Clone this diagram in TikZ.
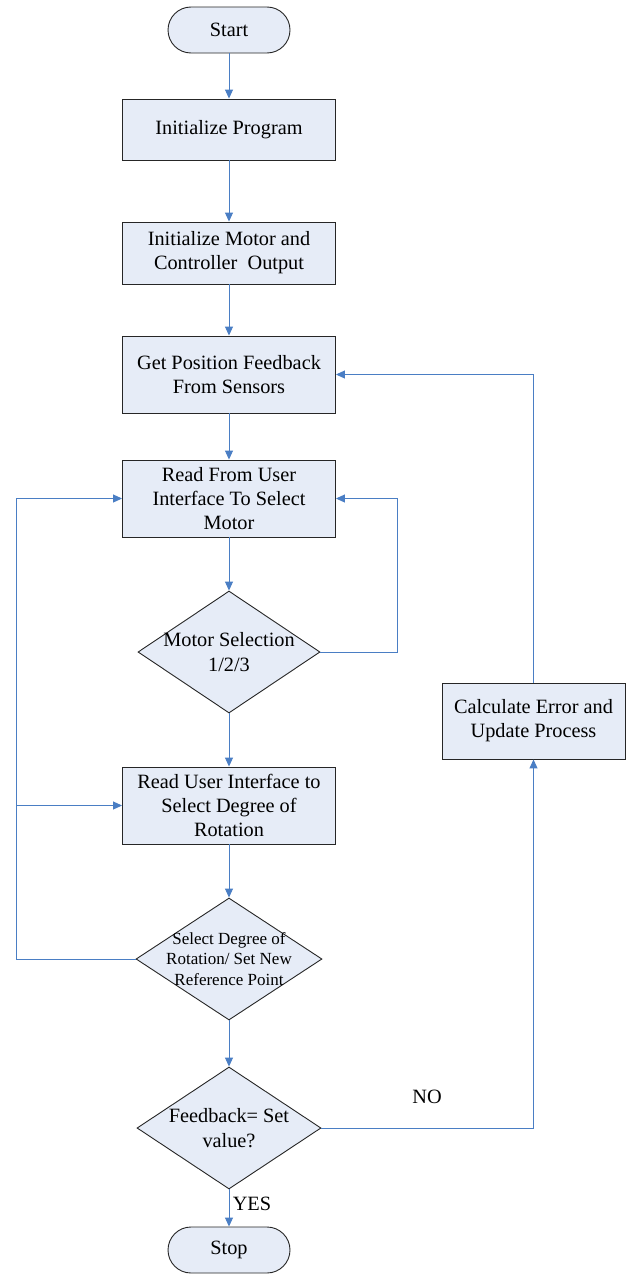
\documentclass[tikz,border=0pt]{standalone}
\usepackage{fontspec}
\setmainfont{Liberation Serif}
\usetikzlibrary{shapes.geometric,arrows.meta}
\definecolor{flowfill}{HTML}{E6ECF7}
\definecolor{flowline}{HTML}{4A7EC4}
\tikzset{
  shapebase/.style={draw=black!85, line width=0.9pt, fill=flowfill, inner sep=0pt,
    align=center, font=\fontsize{20.3}{24}\selectfont},
  procbox/.style={shapebase, rectangle, minimum width=213pt, minimum height=77pt},
  termbox/.style={shapebase, rectangle, rounded corners=23pt, minimum width=122pt, minimum height=46pt},
  decision/.style={shapebase, diamond, minimum width=184pt, minimum height=122pt},
  flow/.style={draw=flowline, line width=1pt, -{Triangle[length=9pt,width=8pt]}},
  tag/.style={font=\fontsize{20.3}{25}\selectfont, inner sep=0pt},
}
\begin{document}
\begin{tikzpicture}[x=1pt,y=-1pt]
\useasboundingbox (0,0) rectangle (631,1274);

% main column
\node[termbox] (start) at (229,30) {Start};
\node[procbox, minimum height=61pt] (init) at (229,129.5) {Initialize Program};
\node[procbox, minimum height=62pt] (motor) at (229,253) {Initialize Motor and\\Controller\ \ Output};
\node[procbox] (getpos) at (229,374.5) {Get Position Feedback\\From Sensors};
\node[procbox] (readsel) at (229,498.5) {Read From User\\Interface To Select\\Motor};
\node[decision, minimum width=182pt,
  label={[tag, align=center]center:Motor Selection\\1/2/3}] (msel) at (229,652) {};
\node[procbox] (readdeg) at (229,805.5) {Read User Interface to\\Select Degree of\\Rotation};
\node[decision, minimum width=186pt,
  label={[inner sep=0pt, align=center, font=\fontsize{17}{20.5}\selectfont]center:Select Degree of\\Rotation/ Set New\\Reference Point}] (sdeg) at (229,959) {};
\node[decision,
  label={[tag, align=center]center:Feedback= Set\\value?}] (fb) at (229,1128) {};
\node[termbox] (stop) at (229,1250) {Stop};

% side process
\node[procbox, minimum width=183pt, minimum height=76pt] (calc) at (533.5,721) {Calculate Error and\\Update Process};

% loop corners
\coordinate (rloop) at (397,498.5);
\coordinate (lloop) at (16,498.5);
\coordinate (lbranch) at (16,805.5);

% straight flow
\draw[flow] (start) -- (init);
\draw[flow] (init) -- (motor);
\draw[flow] (motor) -- (getpos);
\draw[flow] (getpos) -- (readsel);
\draw[flow] (readsel) -- (msel);
\draw[flow] (msel) -- (readdeg);
\draw[flow] (readdeg) -- (sdeg);
\draw[flow] (sdeg) -- (fb);
\draw[flow] (fb) -- (stop);

% loops
\draw[flow] (msel.east) -| (rloop) -- (readsel.east);
\draw[flow] (sdeg.west) -| (lloop) -- (readsel.west);
\draw[flow] (lbranch) -- (readdeg.west);
\draw[flow] (fb.east) -| (calc.south);
\draw[flow] (calc.north) |- (getpos.east);

% branch labels
\node[tag] (nolabel) at (427,1097) {NO};
\node[tag] (yeslabel) at (252,1204) {YES};
\end{tikzpicture}
\end{document}
